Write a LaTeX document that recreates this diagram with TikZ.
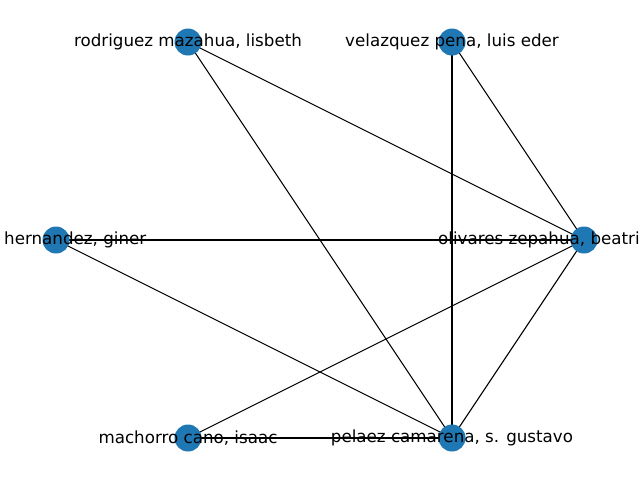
\documentclass[tikz,border=0pt]{standalone}
\usepackage{fontspec}
\setmainfont{DejaVu Sans}
\definecolor{nodeblue}{HTML}{1F77B4}
\begin{document}
\begin{tikzpicture}[x=1pt,y=-1pt,
  vert/.style={circle,fill=nodeblue,minimum size=27pt,inner sep=0pt},
  lab/.style={font=\fontsize{16.7}{20}\selectfont,inner sep=0pt},
  edge/.style={draw=black,line width=1.1pt}]
\useasboundingbox (0,0) rectangle (640,480);
\coordinate (r) at (188,42);
\coordinate (v) at (452,42);
\coordinate (h) at (56,240);
\coordinate (o) at (584,240);
\coordinate (m) at (188,438);
\coordinate (p) at (452,438);
\draw[edge] (r) -- (o);
\draw[edge] (r) -- (p);
\draw[edge] (v) -- (p);
\draw[edge] (v) -- (o);
\draw[edge] (h) -- (o);
\draw[edge] (h) -- (p);
\draw[edge] (m) -- (o);
\draw[edge] (m) -- (p);
\draw[edge] (o) -- (p);
\node[vert] (nr) at (r) {};
\node[vert] (nv) at (v) {};
\node[vert] (nh) at (h) {};
\node[vert] (no) at (o) {};
\node[vert] (nm) at (m) {};
\node[vert] (np) at (p) {};
\node[lab] (lr) at (r) {rodriguez mazahua, lisbeth};
\node[lab] (lv) at (v) {velazquez pena, luis eder};
\node[lab,anchor=west] (lh) at ([xshift=-52pt]h) {hernandez, giner};
\node[lab,anchor=west] (lo) at ([xshift=-146pt]o) {olivares zepahua, beatriz};
\node[lab] (lm) at (m) {machorro cano, isaac};
\node[lab] (lp) at (p) {pelaez camarena, s. gustavo};
\end{tikzpicture}
\end{document}
